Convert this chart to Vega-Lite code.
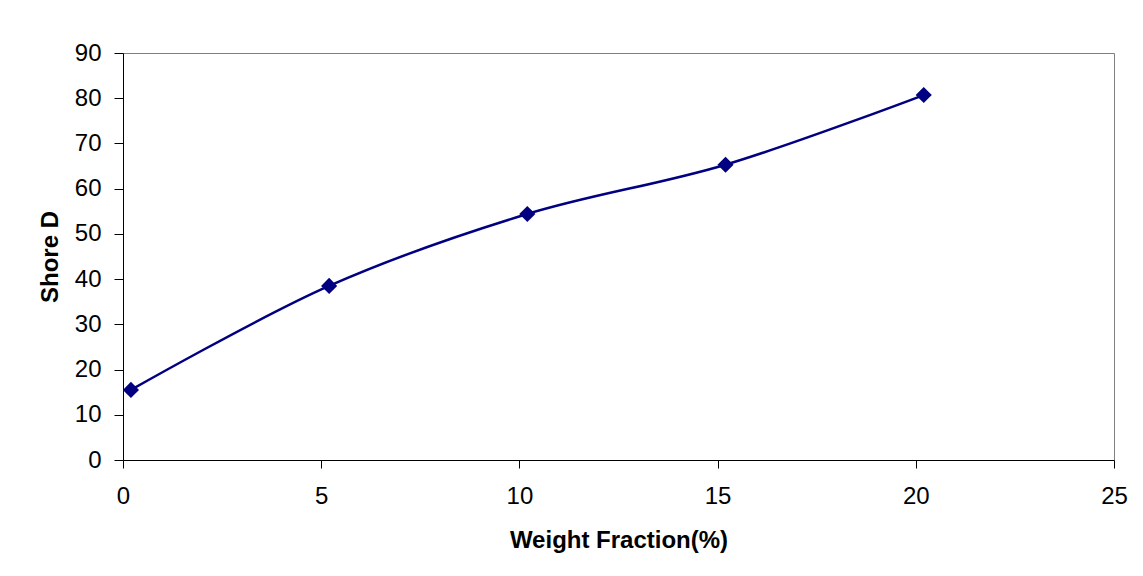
{
  "$schema": "https://vega.github.io/schema/vega-lite/v6.json",
  "autosize": {"type": "none"},
  "padding": {"left": 123, "top": 53, "right": 29, "bottom": 115},
  "width": 991,
  "height": 407,
  "background": "white",
  "config": {
    "view": {"stroke": "#808080", "strokeWidth": 1},
    "font": "Liberation Sans",
    "axis": {
      "grid": false,
      "domainColor": "black",
      "tickColor": "black",
      "labelColor": "black",
      "titleColor": "black",
      "labelFont": "Liberation Sans",
      "titleFont": "Liberation Sans",
      "labelFontSize": 24,
      "titleFontSize": 24,
      "titleFontWeight": "bold",
      "labelFlush": false,
      "labelOverlap": false
    }
  },
  "data": {
    "values": [
      {"wf": 0.2, "shore": 15.5},
      {"wf": 5.2, "shore": 38.5},
      {"wf": 10.2, "shore": 54.4},
      {"wf": 15.2, "shore": 65.3},
      {"wf": 20.2, "shore": 80.7}
    ]
  },
  "encoding": {
    "x": {
      "field": "wf",
      "type": "quantitative",
      "scale": {"domain": [0, 25], "nice": false, "zero": false},
      "axis": {"title": "Weight Fraction(%)", "values": [0, 5, 10, 15, 20, 25], "tickSize": 8, "labelPadding": 16, "titlePadding": 20}
    },
    "y": {
      "field": "shore",
      "type": "quantitative",
      "scale": {"domain": [0, 90], "nice": false},
      "axis": {"title": "Shore D", "values": [0, 10, 20, 30, 40, 50, 60, 70, 80, 90], "tickSize": 9, "labelPadding": 13, "titlePadding": 12}
    }
  },
  "layer": [
    {"mark": {"type": "line", "interpolate": "catmull-rom", "color": "#000080", "strokeWidth": 2.5}},
    {"mark": {"type": "point", "shape": "diamond", "filled": true, "color": "#000080", "size": 260, "opacity": 1}}
  ]
}
